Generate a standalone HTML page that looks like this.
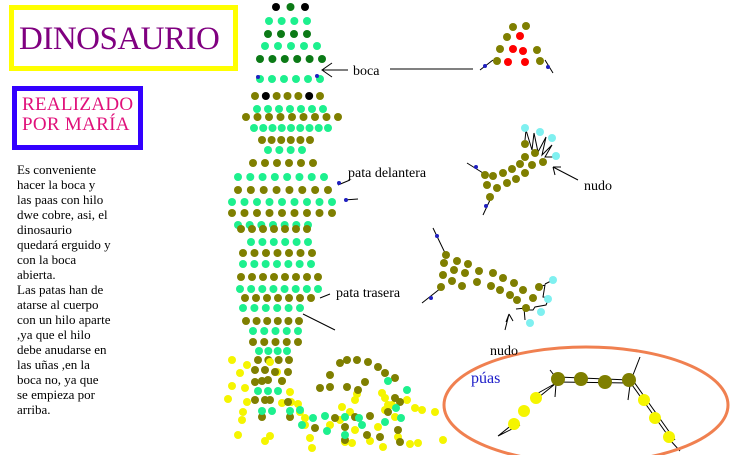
<!DOCTYPE html>
<html><head><meta charset="utf-8"><style>
html,body{margin:0;padding:0;background:#fff;width:730px;height:455px;overflow:hidden}
#w{position:relative;width:730px;height:455px}
.t1{position:absolute;left:9px;top:5px;width:219px;height:56px;border:5px solid #ffff00}
.t1 span{position:absolute;left:5px;top:11px;font:33px "Liberation Serif",serif;color:#800080;letter-spacing:-0.5px}
.t2{position:absolute;left:12px;top:86px;width:121px;height:54px;border:5px solid #3300ff}
.t2 div{position:absolute;left:5px;top:4px;font:19px/20px "Liberation Serif",serif;color:#e0107a;letter-spacing:0.3px}
.txt{position:absolute;left:17px;top:162px;font:13px/15px "Liberation Serif",serif;color:#000}
svg{position:absolute;left:0;top:0}
</style></head><body><div id="w">
<div class="t1"><span>DINOSAURIO</span></div>
<div class="t2"><div>REALIZADO<br>POR MARÍA</div></div>
<div class="txt">Es conveniente<br>hacer la boca y<br>las paas con hilo<br>dwe cobre, asi, el<br>dinosaurio<br>quedará erguido y<br>con la boca<br>abierta.<br>Las patas han de<br>atarse al cuerpo<br>con un hilo aparte<br>,ya que el hilo<br>debe anudarse en<br>las uñas ,en la<br>boca no, ya que<br>se empieza por<br>arriba.</div>
<svg width="730" height="455" xmlns="http://www.w3.org/2000/svg">
<g stroke="#000" stroke-width="1" fill="none">
<path d="M348 70H323M332 63L322 70L332 77"/>
<path d="M390 69H473"/>
<path d="M480 70L493 60M545 60L553 73"/>
<path d="M338 185L350 180M344 200L358 199"/>
<path d="M320 298L330 294M303 314L335 330"/>
<path d="M467 163L483 173M490 200L483 215"/>
<path d="M578 180L553 167M553 167L555 175M553 167L561 167"/>
<path d="M525 140L526 130L532 150L534 133L538 152L546 137L542 155L552 145L545 157L556 157"/>
<path d="M433 228L446 255M422 303L441 288"/>
<path d="M505 330L509 314M509 314L506 322M509 314L513 321"/>
<path d="M539 287L545 285L543 297L549 298L546 305L535 307L533 310L527 310M516 309L526 308"/>
<path d="M553 280L545 284"/>
<path d="M524 308L525 320"/>
<path d="M550 370L557 379M556 384L555 397M531 397L558 382M534 401L560 380M498 436L513 424M498 436L520 425M558 377L629 380M558 382L629 383M633 375L640 357M630 385L628 400M630 382L669 437M634 382L675 440M670 440L680 451"/>
</g>
<ellipse cx="586" cy="405" rx="142" ry="58" fill="none" stroke="#f08050" stroke-width="3"/>
<g id="dots"></g>
<g fill="#2020c0">
<circle cx="485" cy="66" r="2"/><circle cx="548" cy="67" r="2"/>
<circle cx="258" cy="77" r="2"/><circle cx="317" cy="76" r="2"/>
<circle cx="339" cy="183" r="2"/><circle cx="346" cy="200" r="2"/>
<circle cx="476" cy="167" r="2"/><circle cx="486" cy="206" r="2"/>
<circle cx="437" cy="236" r="2"/><circle cx="431" cy="298" r="2"/>
</g>
<g font-family="Liberation Serif,serif" font-size="14" fill="#000">
<text x="353" y="75">boca</text>
<text x="348" y="177">pata delantera</text>
<text x="336" y="297">pata trasera</text>
<text x="584" y="190">nudo</text>
<text x="490" y="355">nudo</text>
<text x="471" y="383" fill="#1a1ac8" font-size="16">púas</text>
</g>
</svg>
<script>
var C={o:"#7f7f00",g:"#1df08e",d:"#0b7a16",k:"#000",y:"#f5f500",r:"#ff0000",c:"#7ff0f0"};
var s="",R=[
[7,276,305,3,"d",[0,2],"k"],[21,269,307,4,"g"],[34,268,307,4,"d"],[46,265,317,5,"g"],[59,260,322,6,"d"],
[79,260,320,6,"g"],[96,255,320,7,"o",[1,5],"k"],[109,257,323,7,"g"],[117,246,338,9,"o"],[128,254,328,9,"g"],
[140,262,310,6,"o"],[150,268,302,4,"g"],[163,253,313,6,"o"],[177,238,324,8,"g"],[190,238,328,8,"o"],
[202,232,332,9,"g"],[213,232,332,9,"o"],[225,238,308,7,"g"],[229,241,307,7,"o"],[242,251,308,6,"g"],
[253,243,312,7,"o"],[264,243,311,7,"g"],[277,241,318,8,"o"],[289,240,318,8,"g"],[298,245,311,7,"o"],
[308,243,300,6,"g"],[321,246,299,6,"o"],[331,253,298,5,"g"],[342,253,298,5,"o"],[351,259,287,4,"g"],[360,258,289,4,"o"]];
R.forEach(function(r){for(var i=0;i<r[3];i++){var x=r[1]+(r[2]-r[1])*i/(r[3]-1);var c=C[r[4]];if(r[5]&&r[5].indexOf(i)>=0)c=C[r[6]];s+='<circle cx="'+x+'" cy="'+r[0]+'" r="4" fill="'+c+'"/>';}});
function P(list,c,rad){for(var i=0;i<list.length;i+=2)s+='<circle cx="'+list[i]+'" cy="'+list[i+1]+'" r="'+(rad||4)+'" fill="'+C[c]+'"/>';}
P([232,360,247,365,240,373,232,386,245,388,228,399,247,402,243,412,242,420,238,435,270,362,277,372,282,381,290,392,291,402,298,404,300,412,305,418,282,403,305,425,330,425,340,420,350,412,342,407,355,400,357,394,385,398,355,430,345,442,352,443,310,438,312,448,270,436,265,441,370,441,378,427,383,447,385,410,382,393,388,405,395,417,415,408,422,410,435,412,398,437,410,444,418,443,443,440,407,400,392,405],"y");
P([255,370,265,370,275,372,288,372,255,382,262,381,268,380,282,381,255,400,265,400,270,400,288,402,262,417,290,417,330,375,340,363,347,360,357,360,368,362,378,367,385,373,395,378,320,388,330,387,347,387,358,390,365,382,395,398,400,402,388,412,370,416,355,417,335,418,315,428,345,427,380,437,400,442,398,430,345,440,367,435],"o");
P([258,391,268,391,278,391,262,411,272,411,290,411,300,410,313,418,325,416,345,417,359,418,388,381,407,390,396,408,401,418,385,422,362,425,345,435,327,431,302,425],"g");
P([513,27,526,26,507,37,537,50,500,49,497,61,540,61],"o");
P([520,36,513,49,523,51,508,62,525,62],"r");
P([525,144,535,153,525,157,520,164,532,165,543,162,512,169,525,173,503,173,516,179,507,183,485,175,493,176,487,185,497,188,490,197],"o");
P([525,128,540,132,552,138,556,156],"c");
P([446,255,444,263,457,261,468,264,443,275,454,270,465,273,479,271,493,273,503,278,514,283,539,287,452,281,462,286,441,287,477,282,491,286,500,290,510,295,523,290,517,300,533,298,526,308],"o");
P([553,280,548,299,541,312,530,323],"c");
P([558,379,581,379,605,382,629,380],"o",7);
P([536,398,524,411,514,424,644,400,655,418,669,437],"y",6);
document.getElementById("dots").innerHTML=s;
</script>
</div></body></html>
